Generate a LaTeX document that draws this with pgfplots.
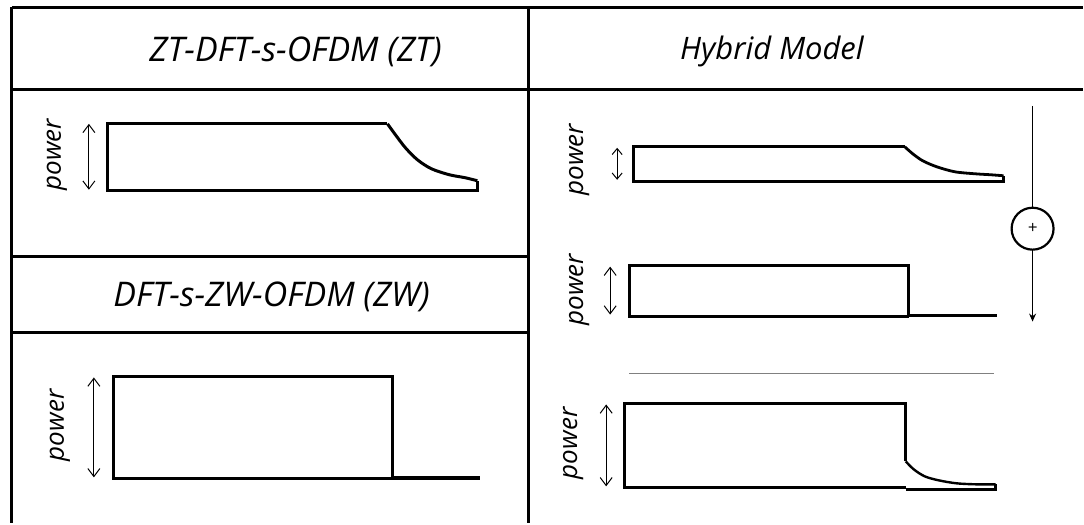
\documentclass[border=0pt]{standalone}
\usepackage{pgfplots}
\pgfplotsset{compat=1.18}
\usepackage{fontspec}
\setmainfont{Open Sans}
\usetikzlibrary{arrows.meta}
\begin{document}
\begin{tikzpicture}
\begin{axis}[
  scale only axis, width=542pt, height=262pt,
  xmin=0, xmax=1084, ymin=0, ymax=524, y dir=reverse,
  hide axis, clip=false,
  cycle list={{black, solid, line width=1.5pt}},
  every axis plot/.append style={no markers, line join=miter},
]
% invisible frame so the picture spans the whole axis area
\addplot[draw=none] coordinates {(0,0) (1084,524)};
% ---- table grid ----
\addplot[black, line width=1.5pt] coordinates {(12,8) (1084,8)};
\addplot[black, line width=1.5pt] coordinates {(12,90) (1084,90)};
\addplot[black, line width=1.5pt] coordinates {(12,257) (529,257)};
\addplot[black, line width=1.5pt] coordinates {(12,333) (529,333)};
\addplot[black, line width=1.5pt] coordinates {(12,7) (12,524)};
\addplot[black, line width=1.5pt] coordinates {(529,7) (529,524)};
% ---- ZT panel ----
\addplot[black, line width=1.5pt] coordinates {(388,124) (108,124) (108,191) (478,191) (478,181)};
\addplot[black, line width=1.5pt, smooth] coordinates {(388,124) (396,135) (406,148) (418,160) (432,169) (450,175) (466,178) (478,181)};
\addplot[black, line width=0.5pt, {Straight Barb[length=4pt,width=6pt]}-{Straight Barb[length=4pt,width=6pt]}] coordinates {(89,124) (89,190)};
% ---- ZW panel ----
\addplot[black, line width=1.5pt] coordinates {(393,479) (114,479) (114,377) (393,377) (393,479)};
\addplot[black, line width=2pt] coordinates {(393,479) (481,479)};
\addplot[black, line width=0.5pt, {Straight Barb[length=4pt,width=6pt]}-{Straight Barb[length=4pt,width=6pt]}] coordinates {(94,378) (94,478)};
% ---- Hybrid top ----
\addplot[black, line width=1.5pt] coordinates {(906,147) (634,147) (634,182) (1005,182) (1005,176)};
\addplot[black, line width=1.4pt, smooth] coordinates {(906,147) (914,154) (924,161) (938,167) (956,172) (976,174) (992,175) (1005,176)};
\addplot[black, line width=0.5pt, {Straight Barb[length=3pt,width=5pt]}-{Straight Barb[length=3pt,width=5pt]}] coordinates {(618,148) (618,180)};
% ---- Hybrid middle ----
\addplot[black, line width=1.5pt] coordinates {(910,317) (630,317) (630,266) (910,266) (910,317)};
\addplot[black, line width=1.6pt] coordinates {(910,316) (998,316)};
\addplot[black, line width=0.5pt, {Straight Barb[length=4pt,width=6pt]}-{Straight Barb[length=4pt,width=6pt]}] coordinates {(611,267) (611,315)};
% ---- separator ----
\addplot[line width=0.5pt, gray] coordinates {(630,374) (995,374)};
% ---- Hybrid bottom ----
\addplot[black, line width=1.5pt] coordinates {(907,462) (907,404) (625,404) (625,488) (907,488)};
\addplot[black, line width=1.4pt] coordinates {(907,490) (997,490) (997,485)};
\addplot[black, line width=1.2pt, smooth] coordinates {(907,462) (915,470) (926,477) (940,481) (958,484) (978,485) (997,485)};
\addplot[black, line width=0.5pt, {Straight Barb[length=4pt,width=6pt]}-{Straight Barb[length=4pt,width=6pt]}] coordinates {(607,405) (607,487)};
% ---- summation ----
\addplot[black, line width=0.5pt] coordinates {(1034,106) (1034,208)};
\addplot[black, line width=0.5pt, -{Stealth[length=4pt,width=3.5pt]}] coordinates {(1034,250) (1034,322)};
\draw[black, line width=1.1pt] (axis cs:1034,229) ellipse [x radius=10.5pt, y radius=10.5pt];
\node[font=\itshape\fontsize{8.5pt}{9pt}\selectfont] at (axis cs:1034,229) {+};
% ---- texts ----
\node[font=\itshape\fontsize{17pt}{20pt}\selectfont] at (axis cs:296,52) {ZT-DFT-s-OFDM (ZT)};
\node[font=\itshape\fontsize{17pt}{20pt}\selectfont] at (axis cs:272,297) {DFT-s-ZW-OFDM (ZW)};
\node[font=\itshape\fontsize{15.5pt}{18pt}\selectfont] at (axis cs:773,52) {Hybrid Model};
\node[rotate=90, font=\itshape\fontsize{13pt}{14pt}\selectfont] at (axis cs:57,155) {power};
\node[rotate=90, font=\itshape\fontsize{13pt}{14pt}\selectfont] at (axis cs:60,426) {power};
\node[rotate=90, font=\itshape\fontsize{13pt}{14pt}\selectfont] at (axis cs:580,160) {power};
\node[rotate=90, font=\itshape\fontsize{13pt}{14pt}\selectfont] at (axis cs:580,290) {power};
\node[rotate=90, font=\itshape\fontsize{13pt}{14pt}\selectfont] at (axis cs:574,444) {power};
\end{axis}
\end{tikzpicture}
\end{document}
